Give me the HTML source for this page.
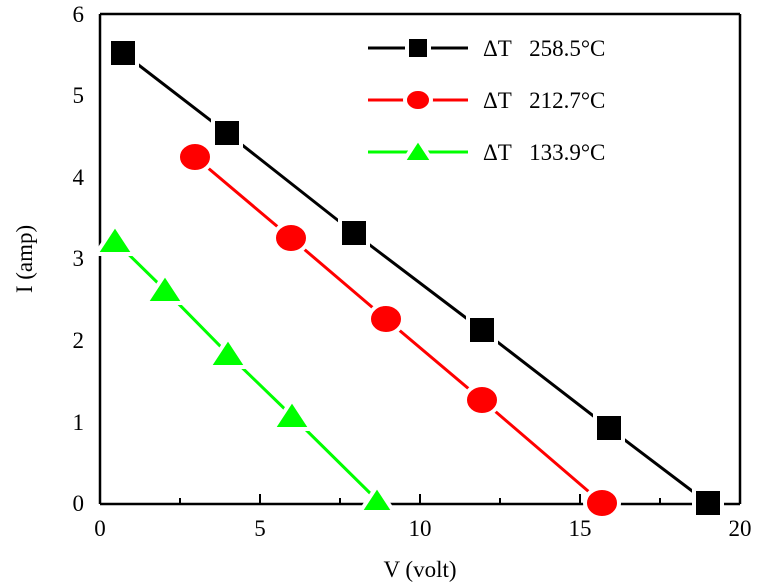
<!DOCTYPE html>
<html><head><style>body{margin:0;background:#fff}svg{display:block}</style></head><body>
<svg width="759" height="588" xmlns="http://www.w3.org/2000/svg" font-family="Liberation Serif, serif">
<rect width="759" height="588" fill="#fff"/>
<g stroke="#000" stroke-width="2.5">
<line x1="100" y1="504" x2="740" y2="504"/><line x1="100" y1="14" x2="740" y2="14"/>
<line x1="100" y1="14" x2="100" y2="504"/><line x1="740" y1="14" x2="740" y2="504"/>
</g>
<g stroke="#000" stroke-width="2">
<line x1="180" y1="504" x2="180" y2="498"/><line x1="260" y1="504" x2="260" y2="494"/>
<line x1="340" y1="504" x2="340" y2="498"/><line x1="420" y1="504" x2="420" y2="494"/>
<line x1="500" y1="504" x2="500" y2="498"/><line x1="580" y1="504" x2="580" y2="494"/>
<line x1="660" y1="504" x2="660" y2="498"/>
</g>
<g font-size="23" text-anchor="middle">
<text x="100" y="536">0</text><text x="260" y="536">5</text><text x="420" y="536">10</text><text x="580" y="536">15</text><text x="740" y="536">20</text>
</g>
<g font-size="23" text-anchor="end">
<text x="84" y="511">0</text><text x="84" y="430">1</text><text x="84" y="348">2</text><text x="84" y="266">3</text><text x="84" y="185">4</text><text x="84" y="103">5</text><text x="84" y="22">6</text>
</g>
<text x="420" y="577" font-size="23" text-anchor="middle">V (volt)</text>
<text transform="translate(32,259) rotate(-90)" font-size="23" text-anchor="middle">I (amp)</text>
<g fill="none" stroke-width="3">
<polyline stroke="#000" points="123,53 227,133 354,233 482,330 609,428 708,503"/>
<polyline stroke="#f00" points="195,157 291,238 386,319 482,400 602,503"/>
<polyline stroke="#0f0" points="115,241 165,290 228,354 292,416 377,500"/>
<line stroke="#000" x1="368" y1="48" x2="468" y2="48"/>
<line stroke="#f00" x1="368" y1="100" x2="468" y2="100"/>
<line stroke="#0f0" x1="368" y1="152" x2="468" y2="152"/>
</g>
<g fill="#000" stroke="#fff" stroke-width="4">
<rect x="109" y="39" width="28" height="28"/><rect x="213" y="119" width="28" height="28"/>
<rect x="340" y="219" width="28" height="28"/><rect x="468" y="316" width="28" height="28"/>
<rect x="595" y="414" width="28" height="28"/><rect x="694" y="489" width="28" height="28"/>
<rect x="407" y="37" width="22" height="22"/>
</g>
<g fill="#f00" stroke="#fff" stroke-width="4">
<ellipse cx="195" cy="157" rx="17" ry="15"/><ellipse cx="291" cy="238" rx="17" ry="15"/>
<ellipse cx="386" cy="319" rx="17" ry="15"/><ellipse cx="482" cy="400" rx="17" ry="15"/>
<ellipse cx="602" cy="503" rx="17" ry="15"/><ellipse cx="418" cy="100" rx="13" ry="11"/>
</g>
<g fill="#0f0" stroke="#fff" stroke-width="4">
<polygon points="115,225 134,254 96,254"/><polygon points="165,274 184,303 146,303"/>
<polygon points="228,338 247,367 209,367"/><polygon points="292,400 311,429 273,429"/>
<polygon points="377,486 394,512 360,512"/><polygon points="418,139 433,162 403,162"/>
</g>
<g font-size="23">
<text x="483" y="56">ΔT&#160;&#160;&#160;258.5°C</text>
<text x="483" y="108">ΔT&#160;&#160;&#160;212.7°C</text>
<text x="483" y="160">ΔT&#160;&#160;&#160;133.9°C</text>
</g>
</svg>
</body></html>
